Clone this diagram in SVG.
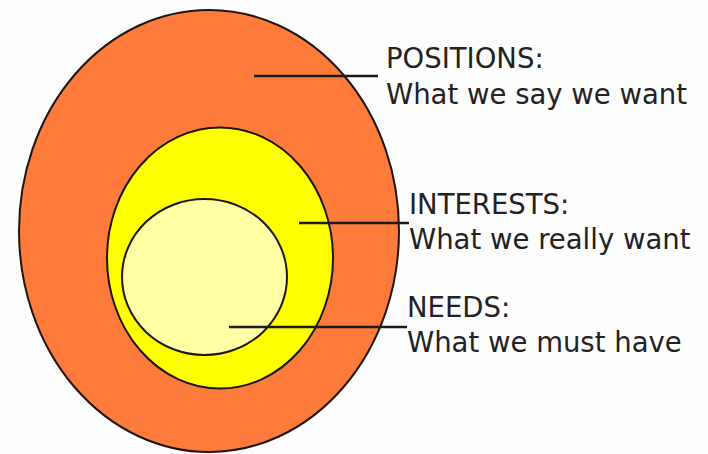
<svg xmlns="http://www.w3.org/2000/svg" width="708" height="454" viewBox="0 0 708 454">
<style>
.ring{stroke:#1e1510;stroke-width:2}
.lbl{font-family:"DejaVu Sans",sans-serif;font-size:27.5px;fill:#222}
.lead{stroke:#1a1a1a;stroke-width:2.5;fill:none}
</style>
<rect width="708" height="454" fill="#fdfdfd"/>
<g id="positions">
<ellipse class="ring" cx="209" cy="231" rx="190" ry="221" fill="#ff7b3b"/>
</g>
<g id="interests">
<ellipse class="ring" cx="220" cy="258" rx="113" ry="130.5" fill="#ffff00"/>
</g>
<g id="needs">
<ellipse class="ring" cx="204.5" cy="277" rx="82.5" ry="78" fill="#ffffa3"/>
</g>
<g id="connectors">
<line class="lead" x1="254" y1="76" x2="378" y2="76"/>
<line class="lead" x1="299" y1="223" x2="409" y2="223"/>
<line class="lead" x1="229" y1="327" x2="407" y2="327"/>
</g>
<g id="label-positions">
<text class="lbl" x="386" y="68">POSITIONS:</text>
<text class="lbl" x="386" y="104">What we say we want</text>
</g>
<g id="label-interests">
<text class="lbl" x="409" y="214">INTERESTS:</text>
<text class="lbl" x="409" y="249">What we really want</text>
</g>
<g id="label-needs">
<text class="lbl" x="407" y="317">NEEDS:</text>
<text class="lbl" x="407" y="352">What we must have</text>
</g>
</svg>
